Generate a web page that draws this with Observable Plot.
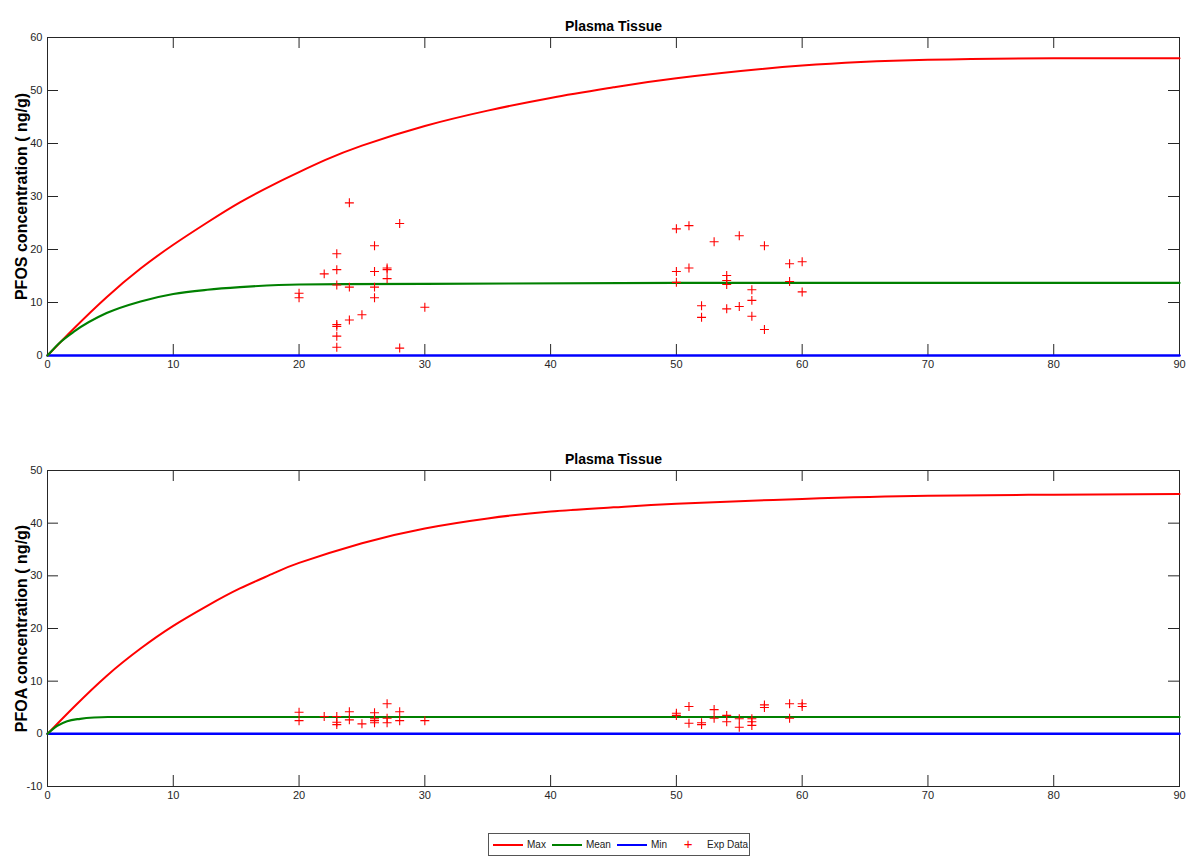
<!DOCTYPE html>
<html><head><meta charset="utf-8">
<script src="https://cdn.jsdelivr.net/npm/d3@7"></script>
<script src="https://cdn.jsdelivr.net/npm/@observablehq/plot@0.6"></script>
<style>
body{margin:0;background:#fff;width:1187px;height:857px;position:relative;overflow:hidden;font-family:"Liberation Sans",Arial,sans-serif;}
#top{position:absolute;left:0;top:0}
#bottom{position:absolute;left:0;top:400px}
#legend{position:absolute;left:488px;top:833px;width:262px;height:23px;border:1px solid #555;box-sizing:border-box;display:flex;align-items:center;font-size:10px;color:#222;padding-left:4px;background:#fff;white-space:nowrap}
#legend .sw{width:30px;height:12px;position:relative;margin-right:4px;flex:none}
#legend .ln{position:absolute;left:0;right:0;top:5px;height:2px}
#legend .pl{position:absolute;left:0;right:0;top:-4px;text-align:center;font-size:15px;line-height:18px}
#legend .lb{margin-right:6px;flex:none}
</style></head>
<body>
<div id="top"></div>
<div id="bottom"></div>
<div id="legend"></div>
<script>
// ---- data ----
const xTicks = [0, 10, 20, 30, 40, 50, 60, 70, 80, 90];
const pfosTicks = [0, 10, 20, 30, 40, 50, 60];
const pfoaTicks = [-10, 0, 10, 20, 30, 40, 50];

const pfosMaxT = [0, 2.1, 4.7, 7.4, 10, 12.7, 15.3, 18, 20, 22.1, 25, 30, 35, 40, 45, 50, 60, 70, 80, 90];
const pfosMaxV = [0, 5.1, 11.0, 16.4, 20.9, 25.1, 28.9, 32.3, 34.6, 36.9, 39.6, 43.3, 46.2, 48.6, 50.6, 52.3, 54.7, 55.8, 56.1, 56.1];
const pfosMeanT = [0, 1.06, 2.1, 4.7, 7.4, 10, 12.7, 15.3, 20, 30, 50, 90];
const pfosMeanV = [0, 2.6, 4.5, 8.0, 10.2, 11.6, 12.4, 12.9, 13.4, 13.5, 13.7, 13.7];
const pfosMinT = [0, 90];
const pfosMinV = [0, 0];
const pfosExpX = [24, 28, 23, 26, 22, 23, 26, 27, 27, 27, 23, 24, 26, 20, 20, 26, 30, 25, 24, 23, 23, 23, 23, 28,
  50, 50, 50, 51, 51, 52, 52, 53, 54, 54, 54, 54, 55, 55, 56, 56, 56, 57, 57, 59, 59, 60, 60];
const pfosExpY = [28.8, 24.9, 19.2, 20.7, 15.4, 16.2, 15.85, 16.5, 16.2, 14.5, 13.3, 12.9, 12.9, 11.75, 10.9, 10.9, 9.1, 7.7, 6.7, 5.85, 5.5, 3.65, 1.57, 1.4,
  23.9, 15.85, 13.8, 24.5, 16.5, 9.4, 7.2, 21.45, 15.1, 14.15, 13.4, 8.8, 22.6, 9.25, 12.4, 10.4, 7.4, 20.7, 4.9, 17.3, 13.96, 17.7, 12.0];

const pfoaMaxT = [0, 2.1, 4.7, 7.4, 10, 12.7, 15.3, 18, 20, 25, 30, 35, 40, 45, 50, 60, 70, 80, 90];
const pfoaMaxV = [0, 5.1, 11.0, 16.2, 20.5, 24.3, 27.6, 30.5, 32.45, 36.2, 39.0, 40.9, 42.2, 43.0, 43.7, 44.6, 45.2, 45.4, 45.55];
const pfoaMeanT = [0, 0.77, 1.56, 2.6, 3.7, 4.8, 90];
const pfoaMeanV = [0, 1.5, 2.4, 2.85, 3.1, 3.2, 3.2];
const pfoaMinT = [0, 90];
const pfoaMinV = [0, 0];
const pfoaExpX = [20, 20, 22, 23, 23, 23, 24, 24, 25, 26, 26, 26, 26, 27, 27, 27, 28, 28, 30,
  50, 50, 51, 51, 52, 52, 53, 53, 54, 54, 55, 55, 56, 56, 56, 57, 57, 59, 59, 60, 60];
const pfoaExpY = [4.1, 2.5, 3.3, 3.3, 2.2, 1.75, 4.2, 2.65, 1.9, 4.0, 2.85, 2.5, 2.1, 5.7, 2.95, 2.1, 4.2, 2.5, 2.5,
  3.9, 3.5, 5.2, 2.0, 2.1, 1.75, 4.6, 2.95, 3.5, 2.3, 2.85, 1.25, 2.85, 2.3, 1.6, 5.5, 5.0, 5.7, 2.95, 5.7, 5.2];

const legendLabels = ["Max", "Mean", "Min", "Exp Data"];
const legendColors = ["#ff0000", "#008000", "#0000ff", "#ff0000"];

// ---- drawing ----
const FONT = '"Liberation Sans",Arial,sans-serif';
const rows = (xs, ys) => xs.map((x, i) => ({x, y: ys[i]}));

function panel({title, ylabel, yDomain, yTicks, maxT, maxV, meanT, meanV, minT, minV, expX, expY, height, marginTop, marginBottom}) {
  const W = 1187, mL = 47, mR = 8, tickLen = 11;
  const innerH = height - marginTop - marginBottom;
  const innerW = W - mL - mR;
  return Plot.plot({
    width: W, height, marginLeft: mL, marginRight: mR, marginTop, marginBottom,
    style: {fontFamily: FONT, fontSize: "11px", color: "#262626", background: "white", overflow: "visible"},
    x: {domain: [0, 90]},
    y: {domain: yDomain},
    marks: [
      Plot.frame({stroke: "#262626"}),
      Plot.tickX(xTicks, {x: d => d, insetTop: innerH - tickLen, stroke: "#262626"}),
      Plot.tickX(xTicks, {x: d => d, insetBottom: innerH - tickLen, stroke: "#262626"}),
      Plot.tickY(yTicks, {y: d => d, insetLeft: innerW - tickLen, stroke: "#262626"}),
      Plot.tickY(yTicks, {y: d => d, insetRight: innerW - tickLen, stroke: "#262626"}),
      Plot.axisX({ticks: xTicks, tickSize: 0, tickPadding: 5, tickFormat: d => String(d), label: null}),
      Plot.axisY({ticks: yTicks, tickSize: 0, tickPadding: 5, tickFormat: d => String(d), label: null}),
      Plot.line(rows(minT, minV), {x: "x", y: "y", stroke: "#0000ff", strokeWidth: 2.5}),
      Plot.line(rows(maxT, maxV), {x: "x", y: "y", stroke: "#ff0000", strokeWidth: 2, curve: "natural"}),
      Plot.line(rows(meanT, meanV), {x: "x", y: "y", stroke: "#008000", strokeWidth: 2.2, curve: "monotone-x"}),
      Plot.dot(rows(expX, expY), {x: "x", y: "y", symbol: "plus", r: 3, stroke: "#ff0000", strokeWidth: 1.1}),
      Plot.text([title], {text: d => d, frameAnchor: "top", dy: -16, fontWeight: "bold", fontSize: 14, fill: "#000"}),
      Plot.text([ylabel], {text: d => d, frameAnchor: "left", textAnchor: "middle", dx: -26, rotate: -90, fontWeight: "bold", fontSize: 16, fill: "#000"})
    ]
  });
}

document.getElementById("top").append(panel({
  title: "Plasma Tissue", ylabel: "PFOS concentration ( ng/g)",
  yDomain: [0, 60], yTicks: pfosTicks,
  maxT: pfosMaxT, maxV: pfosMaxV, meanT: pfosMeanT, meanV: pfosMeanV, minT: pfosMinT, minV: pfosMinV,
  expX: pfosExpX, expY: pfosExpY, height: 400, marginTop: 37, marginBottom: 45
}));
document.getElementById("bottom").append(panel({
  title: "Plasma Tissue", ylabel: "PFOA concentration ( ng/g)",
  yDomain: [-10, 50], yTicks: pfoaTicks,
  maxT: pfoaMaxT, maxV: pfoaMaxV, meanT: pfoaMeanT, meanV: pfoaMeanV, minT: pfoaMinT, minV: pfoaMinV,
  expX: pfoaExpX, expY: pfoaExpY, height: 430, marginTop: 70, marginBottom: 44
}));

const legend = document.getElementById("legend");
legendLabels.forEach((lab, i) => {
  const sw = document.createElement("div");
  sw.className = "sw";
  if (lab === "Exp Data") {
    const p = document.createElement("div");
    p.className = "pl"; p.textContent = "+"; p.style.color = legendColors[i];
    sw.append(p);
  } else {
    const l = document.createElement("div");
    l.className = "ln"; l.style.background = legendColors[i];
    sw.append(l);
  }
  const t = document.createElement("span");
  t.className = "lb"; t.textContent = lab;
  legend.append(sw, t);
});
</script>
</body></html>
